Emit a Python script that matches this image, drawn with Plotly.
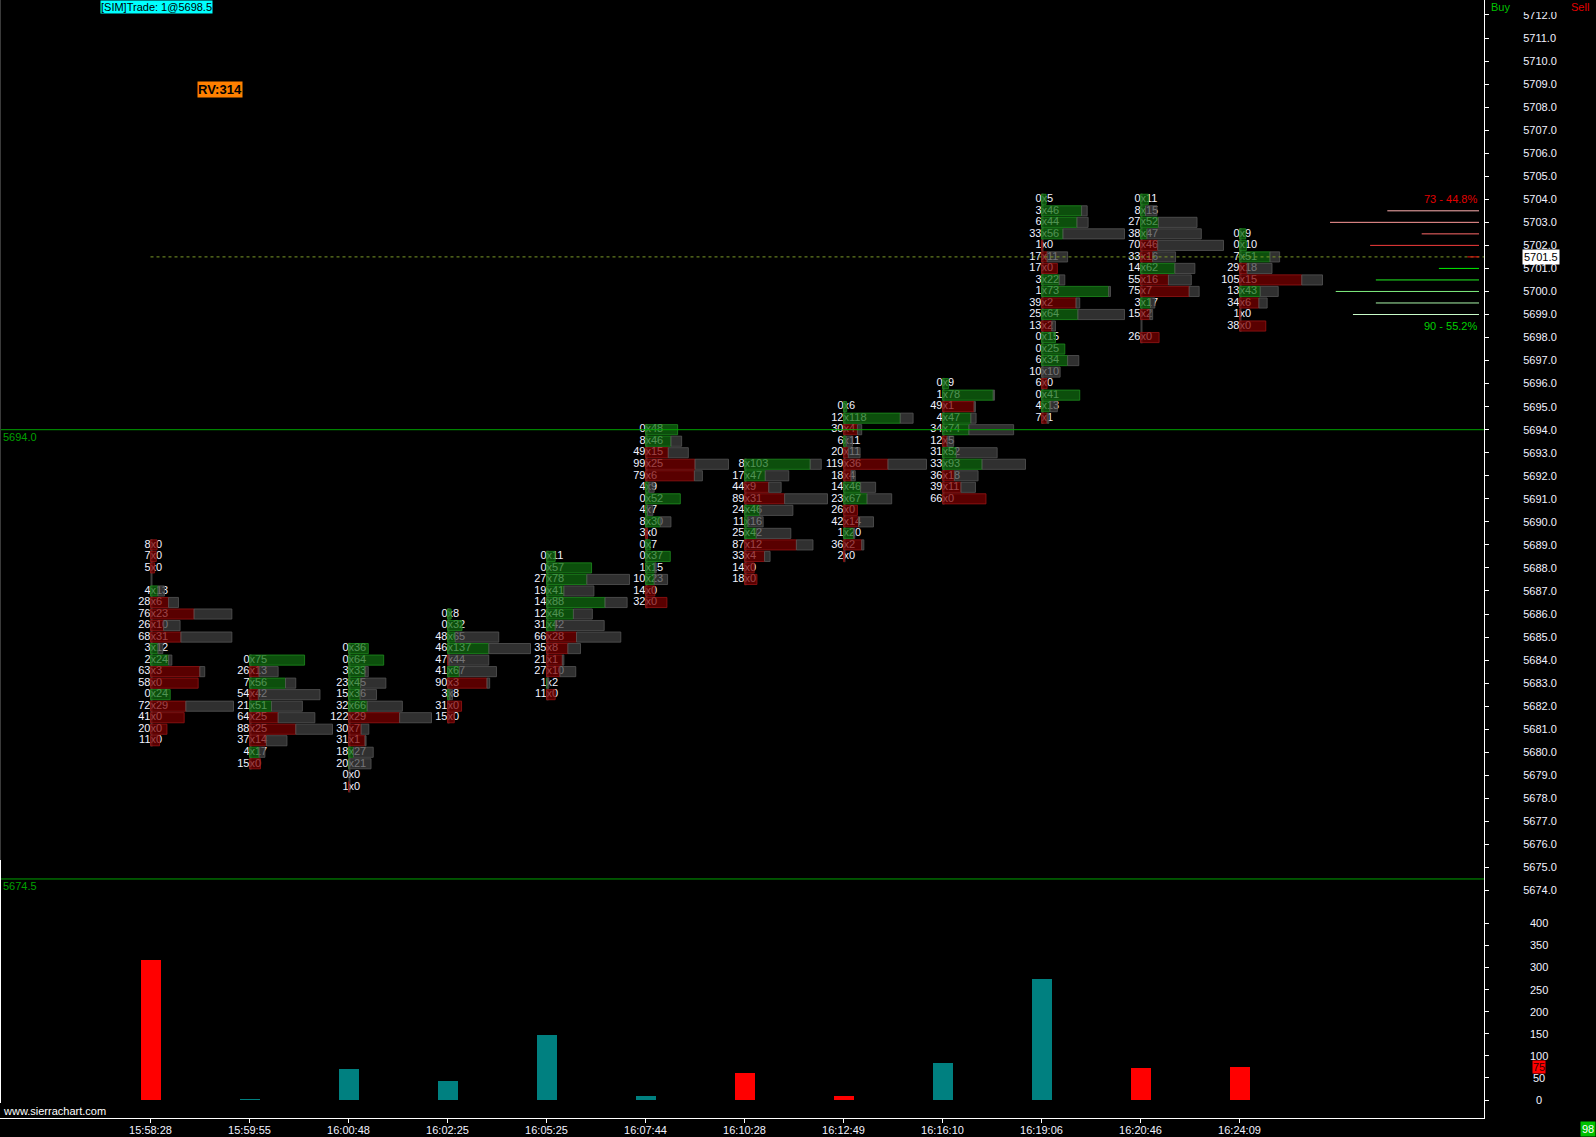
import plotly.graph_objects as go

# ---------------- data ----------------
times = ['15:58:28', '15:59:55', '16:00:48', '16:02:25', '16:05:25', '16:07:44',
         '16:10:28', '16:12:49', '16:16:10', '16:19:06', '16:20:46', '16:24:09']
# highest price row of each footprint column (rows step down by 0.5)
top_prices = [5689.0, 5684.0, 5684.5, 5686.0, 5688.5, 5694.0,
              5692.5, 5695.0, 5696.0, 5704.0, 5704.0, 5702.5]

bid_1 = [8, 7, 5, None, 4, 28, 76, 26, 68, 3, 2, 63, 58, 0, 72, 41, 20, 11]
ask_1 = [0, 0, 0, None, 13, 6, 23, 10, 31, 12, 24, 3, 0, 24, 29, 0, 0, 0]
bid_2 = [0, 26, 7, 54, 21, 64, 88, 37, 4, 15]
ask_2 = [75, 13, 56, 42, 51, 25, 25, 14, 17, 0]
bid_3 = [0, 0, 3, 23, 15, 32, 122, 30, 31, 18, 20, 0, 1]
ask_3 = [36, 64, 33, 45, 36, 66, 29, 7, 1, 27, 21, 0, 0]
bid_4 = [0, 0, 48, 46, 47, 41, 90, 3, 31, 15]
ask_4 = [8, 32, 65, 137, 44, 67, 3, 8, 0, 0]
bid_5 = [0, 0, 27, 19, 14, 12, 31, 66, 35, 21, 27, 1, 11]
ask_5 = [11, 57, 78, 41, 88, 46, 42, 28, 8, 1, 10, 2, 0]
bid_6 = [0, 8, 49, 99, 79, 4, 0, 4, 8, 3, 0, 0, 1, 10, 14, 32]
ask_6 = [48, 46, 15, 25, 6, 9, 52, 7, 30, 0, 7, 37, 15, 23, 0, 0]
bid_7 = [8, 17, 44, 89, 24, 11, 25, 87, 33, 14, 18]
ask_7 = [103, 47, 9, 31, 46, 16, 42, 12, 4, 0, 0]
bid_8 = [0, 12, 30, 6, 20, 119, 18, 14, 23, 26, 42, 1, 36, 2]
ask_8 = [6, 118, 4, 11, 11, 36, 4, 46, 67, 0, 14, 20, 2, 0]
bid_9 = [0, 1, 49, 4, 34, 12, 31, 33, 36, 39, 66]
ask_9 = [9, 78, 1, 47, 74, 5, 52, 93, 18, 11, 0]
bid_10 = [0, 3, 6, 33, 1, 17, 17, 3, 1, 39, 25, 13, 0, 0, 6, 10, 6, 0, 4, 7]
ask_10 = [5, 46, 44, 56, 0, 11, 0, 22, 73, 2, 64, 2, 15, 25, 34, 10, 0, 41, 13, 1]
bid_11 = [0, 8, 27, 38, 70, 33, 14, 55, 75, 3, 15, None, 26]
ask_11 = [11, 15, 52, 47, 46, 16, 62, 16, 7, 17, 2, None, 0]
bid_12 = [0, 0, 7, 29, 105, 13, 34, 1, 38]
ask_12 = [9, 10, 51, 18, 15, 43, 6, 0, 0]

bids = [bid_1, bid_2, bid_3, bid_4, bid_5, bid_6, bid_7, bid_8, bid_9, bid_10, bid_11, bid_12]
asks = [ask_1, ask_2, ask_3, ask_4, ask_5, ask_6, ask_7, ask_8, ask_9, ask_10, ask_11, ask_12]

sell_prices = [5703.5, 5703.0, 5702.5, 5702.0, 5701.5]
sell_vol = [16, 26, 10, 19, 2]
buy_prices = [5701.0, 5700.5, 5700.0, 5699.5, 5699.0]
buy_vol = [7, 18, 25, 18, 22]

level_lines = [5694.0, 5674.5]
last_price = 5701.5
rv_value = 314
sim_text = '[SIM]Trade: 1@5698.5'
counter = 98

vol_ticks = [0, 50, 100, 150, 200, 250, 300, 350, 400]

# ---------------- layout constants ----------------
W, H = 1596, 1137
PLOT_R = 1484          # px of right axis line
COL_PX = 99.0          # px between columns
X0_PX = 150.5          # px of first column axis
PX_PER_PT = 23.04
Y_5704 = 199.3
PRICE_BOT_PX = 900
VOL_BOT_PX = 1118
VOL_ZERO_PX = 1100
VOL_PX_PER = 0.4418

def px2x(px):
    return (px - X0_PX) / COL_PX

def pyp(py):  # pixel y -> paper y
    return 1 - py / H

def pxp(px):
    return px / W

price_rng = [5704 - (PRICE_BOT_PX - Y_5704) / PX_PER_PT, 5704 + Y_5704 / PX_PER_PT]
vol_rng = [-(VOL_BOT_PX - VOL_ZERO_PX) / VOL_PX_PER, (VOL_ZERO_PX - PRICE_BOT_PX) / VOL_PX_PER]

FONT = 'Liberation Sans'
TXT = '#f2f2ff'
BAR_MAX = 83 / COL_PX
HALF_H = 0.22

shapes = []
bx, by, bt, ax_, ay, at = [], [], [], [], [], []
deltas = []
for i, (top, b, a) in enumerate(zip(top_prices, bids, asks)):
    rows = [(top - 0.5 * j, bb, aa) for j, (bb, aa) in enumerate(zip(b, a)) if bb is not None]
    tmax = max(bb + aa for _, bb, aa in rows)
    k = BAR_MAX / tmax
    deltas.append(sum(aa for _, _, aa in rows) - sum(bb for _, bb, _ in rows))
    ps = [p for p, _, _ in rows]
    shapes.append(dict(type='rect', xref='x', yref='y', layer='above',
                       x0=i, x1=i + 2 / COL_PX, y0=min(ps) - 0.25, y1=max(ps) + 0.25,
                       fillcolor='rgba(110,110,110,0.55)', line=dict(width=0)))
    for p, bb, aa in rows:
        bx.append(i); by.append(p); bt.append(str(bb))
        ax_.append(i); ay.append(p); at.append('x' + str(aa))
        d = aa - bb
        tot = aa + bb
        dl = abs(d) * k
        tl = tot * k
        if dl > 0:
            col = 'rgba(16,110,16,0.72)' if d > 0 else 'rgba(124,0,0,0.72)'
            lc = 'rgba(30,140,30,0.8)' if d > 0 else 'rgba(150,20,20,0.8)'
            shapes.append(dict(type='rect', xref='x', yref='y', layer='above',
                               x0=i, x1=i + dl, y0=p - HALF_H, y1=p + HALF_H,
                               fillcolor=col, line=dict(width=1, color=lc)))
        if tl > dl + 1e-9:
            shapes.append(dict(type='rect', xref='x', yref='y', layer='above',
                               x0=i + dl, x1=i + tl, y0=p - HALF_H, y1=p + HALF_H,
                               fillcolor='rgba(66,66,66,0.72)',
                               line=dict(width=1, color='rgba(85,85,85,0.8)')))

fig = go.Figure()
fig.add_trace(go.Scatter(x=bx, y=by, text=bt, mode='text', textposition='middle left',
                         textfont=dict(family=FONT, size=11, color=TXT),
                         hoverinfo='skip', xaxis='x', yaxis='y'))
fig.add_trace(go.Scatter(x=ax_, y=ay, text=at, mode='text', textposition='middle right',
                         textfont=dict(family=FONT, size=11, color=TXT),
                         hoverinfo='skip', xaxis='x', yaxis='y'))

vol_vals = [abs(d) for d in deltas]
vol_cols = ['#008080' if d >= 0 else '#ff0000' for d in deltas]
fig.add_trace(go.Bar(x=list(range(len(times))), y=vol_vals, marker=dict(color=vol_cols, line=dict(width=0)),
                     width=20 / COL_PX, xaxis='x', yaxis='y2', hoverinfo='skip'))

# horizontal level lines
annotations = []
for lv in level_lines:
    shapes.append(dict(type='line', xref='paper', yref='y', layer='above',
                       x0=0, x1=pxp(PLOT_R), y0=lv, y1=lv, line=dict(color='#00a000', width=1)))
    annotations.append(dict(xref='paper', yref='y', x=pxp(1), y=lv, yshift=-7,
                            xanchor='left', yanchor='middle', showarrow=False,
                            text=f'{lv:.1f}', font=dict(family=FONT, size=11, color='#00a000')))
# last price dashed line
shapes.append(dict(type='line', xref='x', yref='y', layer='above',
                   x0=0, x1=px2x(PLOT_R), y0=last_price, y1=last_price,
                   line=dict(color='#7a9a28', width=1, dash='3px,3px')))

# right side buy/sell profile
R_END = px2x(1479)
PROF_PX = 5.73
sell_cols = ['#ffb0b0', '#ff9a9a', '#ff6a6a', '#f43c3c', '#ee1010']
buy_cols = ['#00ee00', '#22ee22', '#80f080', '#a8f5a8', '#c8fac8']
for p, v, c in zip(sell_prices, sell_vol, sell_cols):
    shapes.append(dict(type='line', xref='x', yref='y', layer='above',
                       x0=R_END - v * PROF_PX / COL_PX, x1=R_END, y0=p, y1=p,
                       line=dict(color=c, width=1)))
for p, v, c in zip(buy_prices, buy_vol, buy_cols):
    shapes.append(dict(type='line', xref='x', yref='y', layer='above',
                       x0=R_END - v * PROF_PX / COL_PX, x1=R_END, y0=p, y1=p,
                       line=dict(color=c, width=1)))
s_tot, b_tot = sum(sell_vol), sum(buy_vol)
annotations.append(dict(xref='x', yref='y', x=R_END, y=max(sell_prices) + 0.5, xanchor='right',
                        yanchor='middle', showarrow=False,
                        text=f'{s_tot} - {s_tot / (s_tot + b_tot) * 100:.1f}%',
                        font=dict(family=FONT, size=11, color='#e00000')))
annotations.append(dict(xref='x', yref='y', x=R_END, y=min(buy_prices) - 0.5, xanchor='right',
                        yanchor='middle', showarrow=False,
                        text=f'{b_tot} - {b_tot / (s_tot + b_tot) * 100:.1f}%',
                        font=dict(family=FONT, size=11, color='#00d000')))

# last price label on axis
annotations.append(dict(xref='paper', yref='y', x=pxp(1522), y=last_price, xanchor='left',
                        yanchor='middle', showarrow=False, text=f'{last_price:.1f}',
                        bgcolor='#ffffff', borderpad=1,
                        font=dict(family=FONT, size=11, color='#000000')))

# volume axis labels (centred)
for v in vol_ticks:
    annotations.append(dict(xref='paper', yref='y2', x=pxp(1539), y=v, xanchor='center',
                            yanchor='middle', showarrow=False, text=str(v),
                            font=dict(family=FONT, size=11, color=TXT)))
annotations.append(dict(xref='paper', yref='y2', x=pxp(1539), y=vol_vals[-1], xanchor='center',
                        yanchor='middle', showarrow=False, text=str(vol_vals[-1]),
                        bgcolor='#ff0000', borderpad=0,
                        font=dict(family=FONT, size=11, color='#300000')))

# header texts
annotations.append(dict(xref='paper', yref='paper', x=pxp(100), y=1, xanchor='left', yanchor='top',
                        showarrow=False, text=sim_text, bgcolor='#00ffff', borderpad=0,
                        font=dict(family=FONT, size=11, color='#000000')))
annotations.append(dict(xref='paper', yref='paper', x=pxp(197), y=pyp(81), xanchor='left', yanchor='top',
                        showarrow=False, text=f'<b>RV:{rv_value}</b>', bgcolor='#ff8000', borderpad=0,
                        font=dict(family=FONT, size=13, color='#000000')))
annotations.append(dict(xref='paper', yref='paper', x=pxp(1489), y=pyp(7), xanchor='left', yanchor='middle',
                        showarrow=False, text='Buy', font=dict(family=FONT, size=11, color='#00c000')))
annotations.append(dict(xref='paper', yref='paper', x=pxp(1591), y=pyp(7), xanchor='right', yanchor='middle',
                        showarrow=False, text='Sell', font=dict(family=FONT, size=11, color='#e00000')))
annotations.append(dict(xref='paper', yref='paper', x=1, y=0, xanchor='right', yanchor='bottom',
                        showarrow=False, text=str(counter), bgcolor='#00c000', borderpad=1,
                        font=dict(family=FONT, size=11, color='#ffffff')))
annotations.append(dict(xref='paper', yref='paper', x=pxp(1), y=pyp(1111), xanchor='left', yanchor='middle',
                        showarrow=False, text='www.sierrachart.com',
                        font=dict(family=FONT, size=11, color='#ffffff')))

# cover top of price axis labels (clipped like the reference)
shapes.append(dict(type='rect', xref='paper', yref='paper', layer='above',
                   x0=pxp(PLOT_R + 2), x1=1, y0=pyp(12), y1=1, fillcolor='#000000', line=dict(width=0)))
# left border
shapes.append(dict(type='line', xref='paper', yref='paper', layer='above',
                   x0=pxp(0.5), x1=pxp(0.5), y0=pyp(0), y1=pyp(860), line=dict(color='#3a3a3a', width=1)))
shapes.append(dict(type='line', xref='paper', yref='paper', layer='above',
                   x0=pxp(0.5), x1=pxp(0.5), y0=pyp(860), y1=pyp(1103), line=dict(color='#ffffff', width=1)))

fig.update_layout(
    width=W, height=H, margin=dict(l=0, r=0, t=0, b=0),
    paper_bgcolor='#000000', plot_bgcolor='#000000',
    showlegend=False, hovermode=False, bargap=0,
    shapes=shapes, annotations=annotations,
    xaxis=dict(domain=[0, pxp(PLOT_R)], range=[px2x(0), px2x(PLOT_R)], anchor='y2',
               tickvals=list(range(len(times))), ticktext=times,
               showgrid=False, zeroline=False, showline=True, linecolor='#ffffff', linewidth=1,
               ticks='outside', ticklen=4, tickcolor='#ffffff', ticklabelstandoff=-2,
               tickfont=dict(family=FONT, size=11, color=TXT), fixedrange=True),
    yaxis=dict(domain=[pyp(PRICE_BOT_PX), 1], range=price_rng, anchor='x', side='right',
               tickmode='linear', tick0=5674, dtick=1, tickformat='.1f',
               showgrid=False, zeroline=False, showline=True, linecolor='#ffffff', linewidth=1,
               ticks='outside', ticklen=4, tickcolor='#ffffff', ticklabelstandoff=32,
               tickfont=dict(family=FONT, size=11, color=TXT), fixedrange=True),
    yaxis2=dict(domain=[pyp(VOL_BOT_PX), pyp(PRICE_BOT_PX)], range=vol_rng, anchor='x', side='right',
                tickvals=vol_ticks, showticklabels=False,
                showgrid=False, zeroline=False, showline=True, linecolor='#ffffff', linewidth=1,
                ticks='outside', ticklen=4, tickcolor='#ffffff', fixedrange=True),
)

fig.write_html('out.html', config={'displayModeBar': False},
               post_script="document.body.style.margin='0';document.body.style.padding='0';"
                           "document.body.style.background='#000';document.body.style.overflow='hidden';")
